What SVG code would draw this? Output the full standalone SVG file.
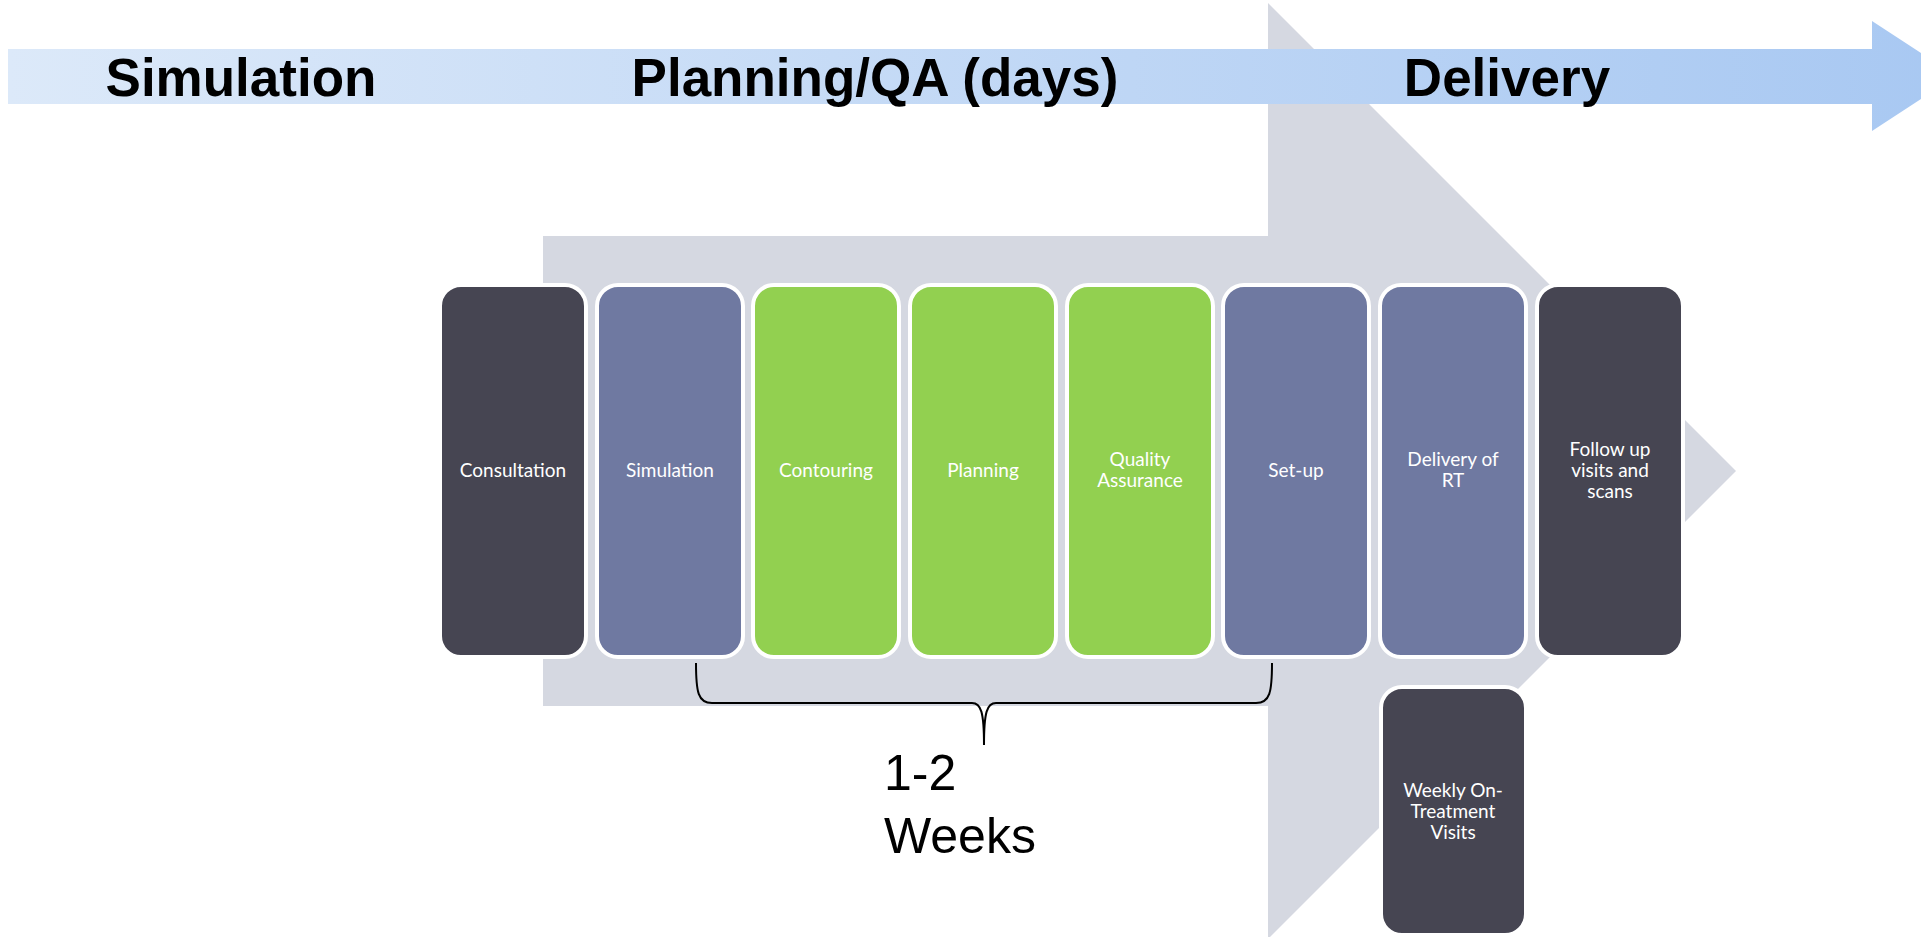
<svg xmlns="http://www.w3.org/2000/svg" width="1921" height="937" viewBox="0 0 1921 937">
<defs>
<linearGradient id="band" x1="0" y1="0" x2="1" y2="0">
<stop offset="0" stop-color="#dce9f9"/>
<stop offset="1" stop-color="#a8c8f2"/>
</linearGradient>
<style>
.box{stroke:#ffffff;stroke-width:4}
.dark{fill:#464552}
.slate{fill:#6f79a1}
.green{fill:#92d050}
.lbl{font-family:Lato,"Open Sans",sans-serif;font-size:19px;fill:#ffffff;text-anchor:middle}
.hdr{font-family:"Liberation Sans",Arial,sans-serif;font-size:53px;font-weight:bold;fill:#000000;text-anchor:middle}
.wk{font-family:"Liberation Sans",Arial,sans-serif;font-size:50px;fill:#000000}
</style>
</defs>
<rect width="1921" height="937" fill="#ffffff"/>
<g id="big-arrow">
<polygon points="543,236 1268,236 1268,3 1736,471 1268,939 1268,706 543,706" fill="#d5d8e1"/>
</g>
<g id="timeline">
<polygon points="8,49 1872,49 1872,21 1956,76 1872,131 1872,104 8,104" fill="url(#band)"/>
<text class="hdr" x="241" y="96">Simulation</text>
<text class="hdr" x="875" y="96">Planning/QA (days)</text>
<text class="hdr" x="1507" y="96">Delivery</text>
</g>
<g id="n-consultation"><rect class="box dark" x="440" y="285" width="146" height="372" rx="21"/><text class="lbl" x="513" y="477">Consultation</text></g>
<g id="n-simulation"><rect class="box slate" x="597" y="285" width="146" height="372" rx="21"/><text class="lbl" x="670" y="477">Simulation</text></g>
<g id="n-contouring"><rect class="box green" x="753" y="285" width="146" height="372" rx="21"/><text class="lbl" x="826" y="477">Contouring</text></g>
<g id="n-planning"><rect class="box green" x="910" y="285" width="146" height="372" rx="21"/><text class="lbl" x="983" y="477">Planning</text></g>
<g id="n-qa"><rect class="box green" x="1067" y="285" width="146" height="372" rx="21"/><text class="lbl" x="1140" y="466">Quality</text><text class="lbl" x="1140" y="487">Assurance</text></g>
<g id="n-setup"><rect class="box slate" x="1223" y="285" width="146" height="372" rx="21"/><text class="lbl" x="1296" y="477">Set-up</text></g>
<g id="n-delivery"><rect class="box slate" x="1380" y="285" width="146" height="372" rx="21"/><text class="lbl" x="1453" y="466">Delivery of</text><text class="lbl" x="1453" y="487">RT</text></g>
<g id="n-followup"><rect class="box dark" x="1537" y="285" width="146" height="372" rx="21"/><text class="lbl" x="1610" y="456">Follow up</text><text class="lbl" x="1610" y="477">visits and</text><text class="lbl" x="1610" y="498">scans</text></g>
<g id="n-weekly"><rect class="box dark" x="1381" y="687" width="145" height="248" rx="21"/><text class="lbl" x="1453" y="797">Weekly On-</text><text class="lbl" x="1453" y="818">Treatment</text><text class="lbl" x="1453" y="839">Visits</text></g>
<g id="connectors">
<path d="M696,663 C696,692 698,703 712,703 L972,703 C981,703 984,712 984,745 C984,712 987,703 996,703 L1256,703 C1270,703 1272,692 1272,663" fill="none" stroke="#000000" stroke-width="2"/>
</g>
<g id="duration">
<text class="wk" x="884" y="790">1-2</text>
<text class="wk" x="884" y="853">Weeks</text>
</g>
</svg>
